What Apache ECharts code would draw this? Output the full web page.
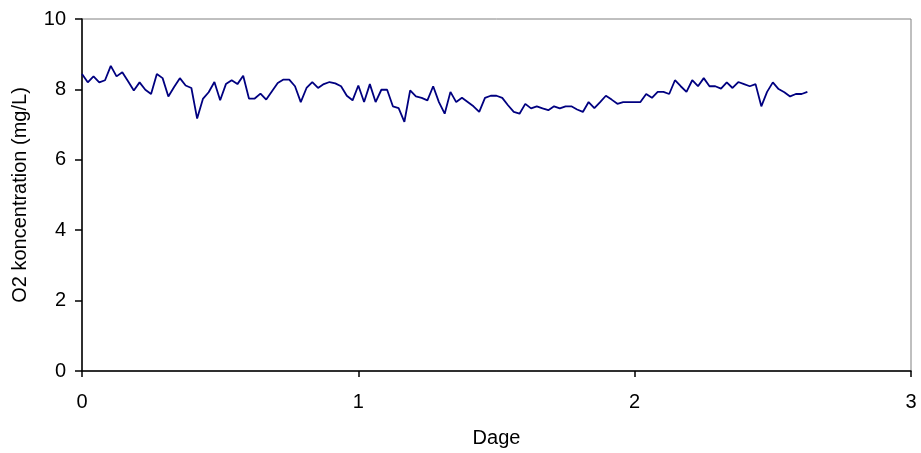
<!DOCTYPE html>
<html>
<head>
<meta charset="utf-8">
<script src="https://cdn.jsdelivr.net/npm/echarts@6/dist/echarts.min.js"></script>
<style>
  html, body { margin: 0; padding: 0; background: #ffffff; }
  #chart { width: 921px; height: 453px; }
</style>
</head>
<body>
<div id="chart"></div>
<script>
// O2 readings taken every half hour (1/48 day)
const sampleStepDays = 1 / 48;
const o2Values = [
  8.44, 8.20, 8.37, 8.20, 8.26, 8.67, 8.37, 8.49, 8.23, 7.97,
  8.20, 7.99, 7.87, 8.44, 8.32, 7.80, 8.07, 8.32, 8.11, 8.04,
  7.17, 7.73, 7.92, 8.21, 7.69, 8.15, 8.26, 8.15, 8.39, 7.74,
  7.74, 7.88, 7.71, 7.95, 8.18, 8.28, 8.28, 8.09, 7.64, 8.04,
  8.21, 8.04, 8.15, 8.21, 8.17, 8.09, 7.82, 7.69, 8.11, 7.64,
  8.15, 7.64, 7.99, 7.99, 7.52, 7.47, 7.08, 7.97, 7.80, 7.76,
  7.69, 8.09, 7.64, 7.31, 7.93, 7.64, 7.76, 7.64, 7.52, 7.36,
  7.76, 7.82, 7.82, 7.76, 7.55, 7.36, 7.31, 7.59, 7.46, 7.52,
  7.46, 7.41, 7.52, 7.46, 7.52, 7.52, 7.43, 7.36, 7.64, 7.47,
  7.64, 7.82, 7.71, 7.59, 7.64, 7.64, 7.64, 7.64, 7.87, 7.76,
  7.93, 7.93, 7.87, 8.26, 8.09, 7.93, 8.26, 8.09, 8.32, 8.09,
  8.09, 8.02, 8.20, 8.04, 8.21, 8.15, 8.09, 8.15, 7.52, 7.93,
  8.20, 8.01, 7.92, 7.80, 7.87, 7.87, 7.93
];
const dayTicks = [0, 1, 2, 3];
const o2Ticks = [0, 2, 4, 6, 8, 10];

const points = o2Values.map((v, i) => [i * sampleStepDays, v]);

const font = 'Liberation Sans, Arial, sans-serif';
const chart = echarts.init(document.getElementById('chart'), null, { renderer: 'canvas' });
chart.setOption({
  animation: false,
  backgroundColor: '#ffffff',
  grid: {
    left: 82, top: 19, right: 10, bottom: 80,
    show: true, borderColor: '#808080', borderWidth: 1, backgroundColor: 'transparent'
  },
  xAxis: {
    type: 'value',
    min: dayTicks[0], max: dayTicks[dayTicks.length - 1], interval: 1,
    name: 'Dage', nameLocation: 'middle', nameGap: 57,
    nameTextStyle: { fontFamily: font, fontSize: 20, color: '#000' },
    axisLine: { show: true, onZero: false, lineStyle: { color: '#000', width: 1.5 } },
    axisTick: { show: true, inside: false, length: 6, lineStyle: { color: '#000', width: 1.5 } },
    axisLabel: { fontFamily: font, fontSize: 20, color: '#000', margin: 21 },
    splitLine: { show: false }
  },
  yAxis: {
    type: 'value',
    min: o2Ticks[0], max: o2Ticks[o2Ticks.length - 1], interval: 2,
    name: 'O2 koncentration (mg/L)', nameLocation: 'middle', nameGap: 52, nameRotate: 90,
    nameTextStyle: { fontFamily: font, fontSize: 20, color: '#000' },
    axisLine: { show: true, onZero: false, lineStyle: { color: '#000', width: 1.5 } },
    axisTick: { show: true, inside: false, length: 7, lineStyle: { color: '#000', width: 1.5 } },
    axisLabel: { fontFamily: font, fontSize: 20, color: '#000', margin: 16 },
    splitLine: { show: false }
  },
  series: [{
    type: 'line',
    data: points,
    showSymbol: false,
    lineStyle: { color: '#000080', width: 1.8 },
    itemStyle: { color: '#000080' }
  }]
});
</script>
</body>
</html>
